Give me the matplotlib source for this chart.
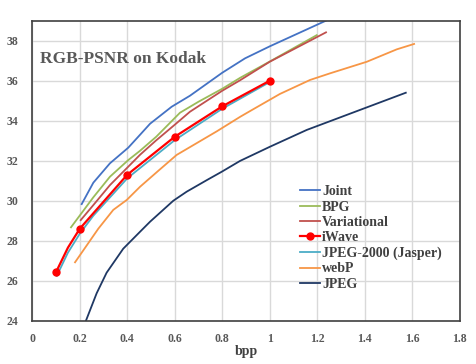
import matplotlib
matplotlib.use("Agg")
import matplotlib.pyplot as plt

joint_x = [0.208, 0.257, 0.327, 0.404, 0.454, 0.496, 0.587, 0.664, 0.80, 0.896, 1.0, 1.236]
joint_y = [29.83, 30.9, 31.87, 32.65, 33.3, 33.85, 34.7, 35.25, 36.4, 37.12, 37.72, 39.0]

bpg_x = [0.163, 0.257, 0.327, 0.404, 0.454, 0.522, 0.622, 0.70, 0.80, 0.876, 1.0, 1.198]
bpg_y = [28.67, 30.17, 31.2, 32.03, 32.5, 33.2, 34.4, 34.95, 35.6, 36.15, 36.96, 38.28]

var_x = [0.204, 0.257, 0.327, 0.404, 0.454, 0.52, 0.60, 0.664, 0.80, 0.876, 1.0, 1.237]
var_y = [29.03, 29.78, 30.78, 31.7, 32.3, 33.0, 33.8, 34.45, 35.5, 36.03, 36.95, 38.42]

iwave_x = [0.1, 0.15, 0.2, 0.4, 0.6, 0.8, 1.0]
iwave_y = [26.43, 27.65, 28.6, 31.3, 33.2, 34.72, 36.0]
iwave_marks = [0, 2, 3, 4, 5, 6]

jasper_x = [0.103, 0.15, 0.2, 0.257, 0.4, 0.6, 0.8, 0.998]
jasper_y = [26.24, 27.4, 28.35, 29.25, 31.12, 33.03, 34.6, 35.92]

webp_x = [0.18, 0.278, 0.341, 0.398, 0.454, 0.535, 0.608, 0.777, 0.876, 0.924,
          1.043, 1.17, 1.254, 1.409, 1.535, 1.608]
webp_y = [26.92, 28.6, 29.54, 30.04, 30.7, 31.54, 32.29, 33.47, 34.2, 34.53,
          35.34, 36.04, 36.37, 36.95, 37.57, 37.84]

jpeg_x = [0.226, 0.271, 0.313, 0.383, 0.454, 0.496, 0.594, 0.65, 0.735, 0.798,
          0.875, 1.001, 1.156, 1.573]
jpeg_y = [24.0, 25.37, 26.4, 27.6, 28.45, 28.95, 30.0, 30.45, 31.03, 31.45,
          31.99, 32.7, 33.54, 35.4]

xticks = [0, 0.2, 0.4, 0.6, 0.8, 1, 1.2, 1.4, 1.6, 1.8]
xticklabels = ['0', '0.2', '0.4', '0.6', '0.8', '1', '1.2', '1.4', '1.6', '1.8']
yticks = [24, 26, 28, 30, 32, 34, 36, 38]

plt.rcParams['font.family'] = ['Liberation Serif', 'DejaVu Serif']
plt.rcParams['font.weight'] = 'bold'

fig = plt.figure(figsize=(4.77, 3.64), dpi=100)
ax = fig.add_axes([0.0677, 0.119, 0.896, 0.824])

lw = 1.3
ax.plot(joint_x, joint_y, color='#4472C4', lw=lw, label='Joint')
ax.plot(bpg_x, bpg_y, color='#9BBB59', lw=lw, label='BPG')
ax.plot(var_x, var_y, color='#C0504D', lw=lw, label='Variational')
ax.plot(iwave_x, iwave_y, color='#FF0000', lw=1.6, marker='o', markersize=5,
        markevery=iwave_marks, label='iWave', zorder=4)
ax.plot(jasper_x, jasper_y, color='#4BACC6', lw=lw, label='JPEG-2000 (Jasper)', zorder=3)
ax.plot(webp_x, webp_y, color='#F79646', lw=lw, label='webP')
ax.plot(jpeg_x, jpeg_y, color='#1F3864', lw=lw, label='JPEG')

ax.set_xlim(0, 1.8)
ax.set_ylim(24, 39)
ax.set_xticks(xticks)
ax.set_xticklabels(xticklabels)
ax.set_yticks(yticks)
ax.tick_params(length=0, labelsize=8.5, labelcolor='#595959')
ax.tick_params(axis='x', pad=9)
ax.tick_params(axis='y', pad=10)
ax.grid(color='#D9D9D9', lw=1)
ax.set_axisbelow(True)
for s in ax.spines.values():
    s.set_color('#404040')
    s.set_linewidth(1.2)

ax.set_xlabel('bpp', fontsize=10, fontweight='bold', color='#404040', labelpad=0)
ax.text(0.018, 0.871, 'RGB-PSNR on Kodak', transform=ax.transAxes,
        fontsize=12.5, color='#595959', ha='left', va='center')

ax.legend(loc='upper left', bbox_to_anchor=(0.61, 0.475), frameon=False,
          fontsize=10, handlelength=1.45, handletextpad=0.15,
          labelspacing=0.17, borderpad=0, labelcolor='#404040')

fig.savefig('out.png', dpi=100)
